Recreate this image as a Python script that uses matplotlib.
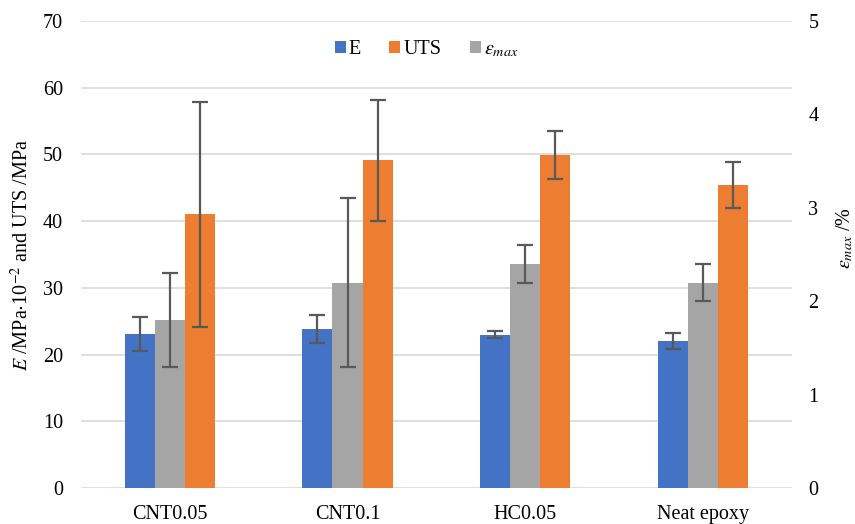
import numpy as np
import matplotlib.pyplot as plt

# Mechanical properties per sample
samples = ['CNT0.05', 'CNT0.1', 'HC0.05', 'Neat epoxy']
e_mod = [23.1, 23.8, 23.0, 22.1]          # MPa x 10^-2
e_mod_err = [2.5, 2.1, 0.5, 1.2]
uts = [41.0, 49.1, 49.9, 45.4]            # MPa
uts_err = [16.9, 9.1, 3.6, 3.5]
eps_max = [1.8, 2.2, 2.4, 2.2]            # %
eps_max_err = [0.5, 0.9, 0.2, 0.2]

plt.rcParams['font.family'] = ['Liberation Serif', 'DejaVu Serif']
plt.rcParams['mathtext.fontset'] = 'stix'

blue = '#4472C4'
orange = '#ED7D31'
gray = '#A5A5A5'
err_color = '#595959'
fs = 14.5

fig = plt.figure(figsize=(8.55, 5.24), dpi=100)
ax = fig.add_axes([0.0947, 0.0687, 0.8313, 0.8913])
ax2 = ax.twinx()

x = np.arange(len(samples))
w = 0.169
err_kw = dict(ecolor=err_color, elinewidth=1.6, capsize=6, capthick=1.6)

b1 = ax.bar(x - w, e_mod, w, yerr=e_mod_err, color=blue, error_kw=err_kw, label='E', zorder=2)
b3 = ax.bar(x + w, uts, w, yerr=uts_err, color=orange, error_kw=err_kw, label='UTS', zorder=2)
b2 = ax2.bar(x, eps_max, w, yerr=eps_max_err, color=gray, error_kw=err_kw,
             label=r'$\varepsilon_{max}$', zorder=2)

ax.set_xlim(-0.5, len(samples) - 0.5)
ax.set_ylim(0, 70)
ax.set_yticks(range(0, 71, 10))
ax2.set_ylim(0, 5)
ax2.set_yticks(range(0, 6))

ax.yaxis.grid(True, color='#d9d9d9', linewidth=1.2, zorder=0)
ax.set_axisbelow(True)
for a in (ax, ax2):
    for s in a.spines.values():
        s.set_visible(False)
    a.tick_params(length=0, labelsize=fs, colors='black')
ax.tick_params(axis='y', pad=13)
ax2.tick_params(axis='y', pad=12)
ax.tick_params(axis='x', pad=12)

ax.set_xticks(x)
ax.set_xticklabels(samples)

ax.set_ylabel(r'$E$ /MPa$\cdot$10$^{-2}$ and UTS /MPa', fontsize=fs)
ax.yaxis.set_label_coords(-0.068, 0.5)
ax2.set_ylabel(r'$\varepsilon_{max}$ /%', fontsize=fs, rotation=90)
ax2.yaxis.set_label_coords(1.06, 0.535)

ax.legend([b1, b3, b2], ['E', 'UTS', r'$\varepsilon_{max}$'], loc='upper center',
          bbox_to_anchor=(0.486, 0.998), ncol=3, frameon=False, fontsize=fs,
          handlelength=0.55, handleheight=0.55, handletextpad=0.15, columnspacing=1.4)

fig.savefig('out.png', dpi=100)
